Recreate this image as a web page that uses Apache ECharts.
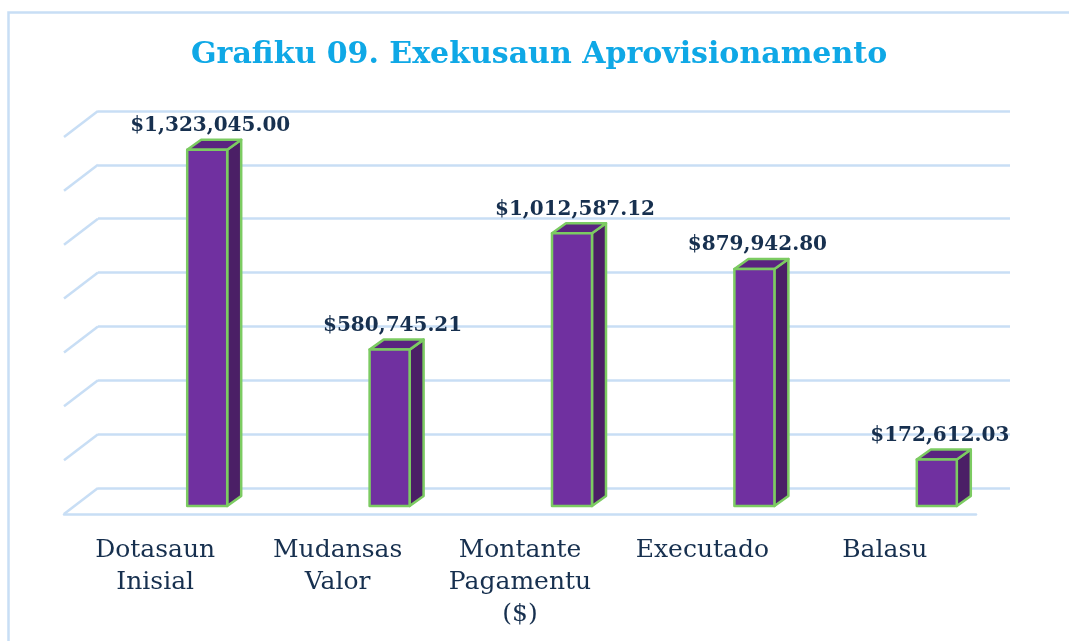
<!DOCTYPE html>
<html>
<head>
<meta charset="utf-8">
<title>Grafiku 09</title>
<script src="https://cdn.jsdelivr.net/npm/echarts@6/dist/echarts.min.js"></script>
<style>
  html, body { margin: 0; padding: 0; background: #fff; }
  #chart { width: 1069px; height: 641px; }
</style>
</head>
<body>
<div id="chart"></div>
<script>
var categories = ['Dotasaun\nInisial', 'Mudansas\nValor', 'Montante\nPagamentu\n($)', 'Executado', 'Balasu'];
var values = [1323045.00, 580745.21, 1012587.12, 879942.80, 172612.03];
var yTicks = [0, 200000, 400000, 600000, 800000, 1000000, 1200000, 1400000];

var lineColor = '#c8def5';
var textColor = '#17304f';
var serif = '"DejaVu Serif", "Liberation Serif", serif';

// 3d look: bars sit in the middle of the floor, depth goes up and right
var barWidth = 40;
var depthX = 14;
var depthY = 10;
var barShiftX = 52;
var barShiftY = -8;

function money(v) {
  return '$' + v.toLocaleString('en-US', { minimumFractionDigits: 2, maximumFractionDigits: 2 });
}

function renderBar(params, api) {
  var top = api.coord([api.value(0), api.value(1)]);
  var base = api.coord([api.value(0), 0]);
  var x0 = top[0] + barShiftX - barWidth / 2;
  var x1 = x0 + barWidth;
  var y0 = top[1] + barShiftY;
  var y1 = base[1] + barShiftY;
  var border = { stroke: '#7ccb62', lineWidth: 2.5, lineJoin: 'round' };
  return {
    type: 'group',
    children: [
      {
        type: 'polygon',
        shape: { points: [[x1, y0], [x1 + depthX, y0 - depthY], [x1 + depthX, y1 - depthY], [x1, y1]] },
        style: Object.assign({ fill: '#4b1f66' }, border)
      },
      {
        type: 'polygon',
        shape: { points: [[x0, y0], [x0 + depthX, y0 - depthY], [x1 + depthX, y0 - depthY], [x1, y0]] },
        style: Object.assign({ fill: '#5a2480' }, border)
      },
      {
        type: 'rect',
        shape: { x: x0, y: y0, width: barWidth, height: y1 - y0 },
        style: Object.assign({ fill: '#7030a0' }, border)
      },
      {
        type: 'text',
        z2: 10,
        style: {
          x: x0 + barWidth / 2 + 3,
          y: y0 - depthY - 14,
          text: money(api.value(1)),
          align: 'center',
          verticalAlign: 'middle',
          fill: textColor,
          font: 'bold 20px ' + serif
        }
      }
    ]
  };
}

function renderStub(params, api) {
  var p = api.coord([0, api.value(0)]);
  return {
    type: 'line',
    shape: { x1: p[0], y1: p[1], x2: p[0] - 34, y2: p[1] + 26 },
    style: { stroke: lineColor, lineWidth: 2.5 }
  };
}

var chart = echarts.init(document.getElementById('chart'));
chart.setOption({
  animation: false,
  backgroundColor: '#fff',
  title: {
    text: 'Grafiku 09. Exekusaun Aprovisionamento',
    left: 186,
    top: 35,
    textStyle: { color: '#0fa8e6', fontFamily: serif, fontWeight: 'bold', fontSize: 30 }
  },
  graphic: [{
    type: 'rect',
    silent: true,
    shape: { x: 8.5, y: 12.5, width: 1200, height: 800 },
    style: { fill: 'none', stroke: lineColor, lineWidth: 2.5 }
  }],
  grid: [
    // back wall
    { left: 98, top: 111, width: 912, height: 377 },
    // front plane
    { left: 64, top: 137, width: 912, height: 377 }
  ],
  xAxis: [
    { gridIndex: 0, type: 'value', min: 0, max: 1, show: false },
    {
      gridIndex: 1,
      type: 'category',
      data: categories,
      axisLine: { show: true, lineStyle: { color: lineColor, width: 2.5 } },
      axisTick: { show: false },
      axisLabel: {
        interval: 0,
        margin: 20,
        color: textColor,
        fontFamily: serif,
        fontSize: 25,
        lineHeight: 32
      }
    }
  ],
  yAxis: [
    {
      gridIndex: 0,
      type: 'value',
      min: 0,
      max: 1400000,
      interval: 200000,
      axisLabel: { show: false },
      axisLine: { show: false },
      axisTick: { show: false },
      splitLine: { show: true, lineStyle: { color: lineColor, width: 2.5 } }
    },
    {
      gridIndex: 1,
      type: 'value',
      min: 0,
      max: 1400000,
      interval: 200000,
      show: false
    }
  ],
  series: [
    {
      type: 'custom',
      xAxisIndex: 0,
      yAxisIndex: 0,
      renderItem: renderStub,
      clip: false,
      silent: true,
      data: yTicks.map(function (t) { return [t]; }),
      encode: { y: 0 },
      z: 1
    },
    {
      type: 'custom',
      xAxisIndex: 1,
      yAxisIndex: 1,
      renderItem: renderBar,
      clip: false,
      data: values.map(function (v, i) { return [i, v]; }),
      encode: { x: 0, y: 1 },
      z: 5
    }
  ]
});
</script>
</body>
</html>
